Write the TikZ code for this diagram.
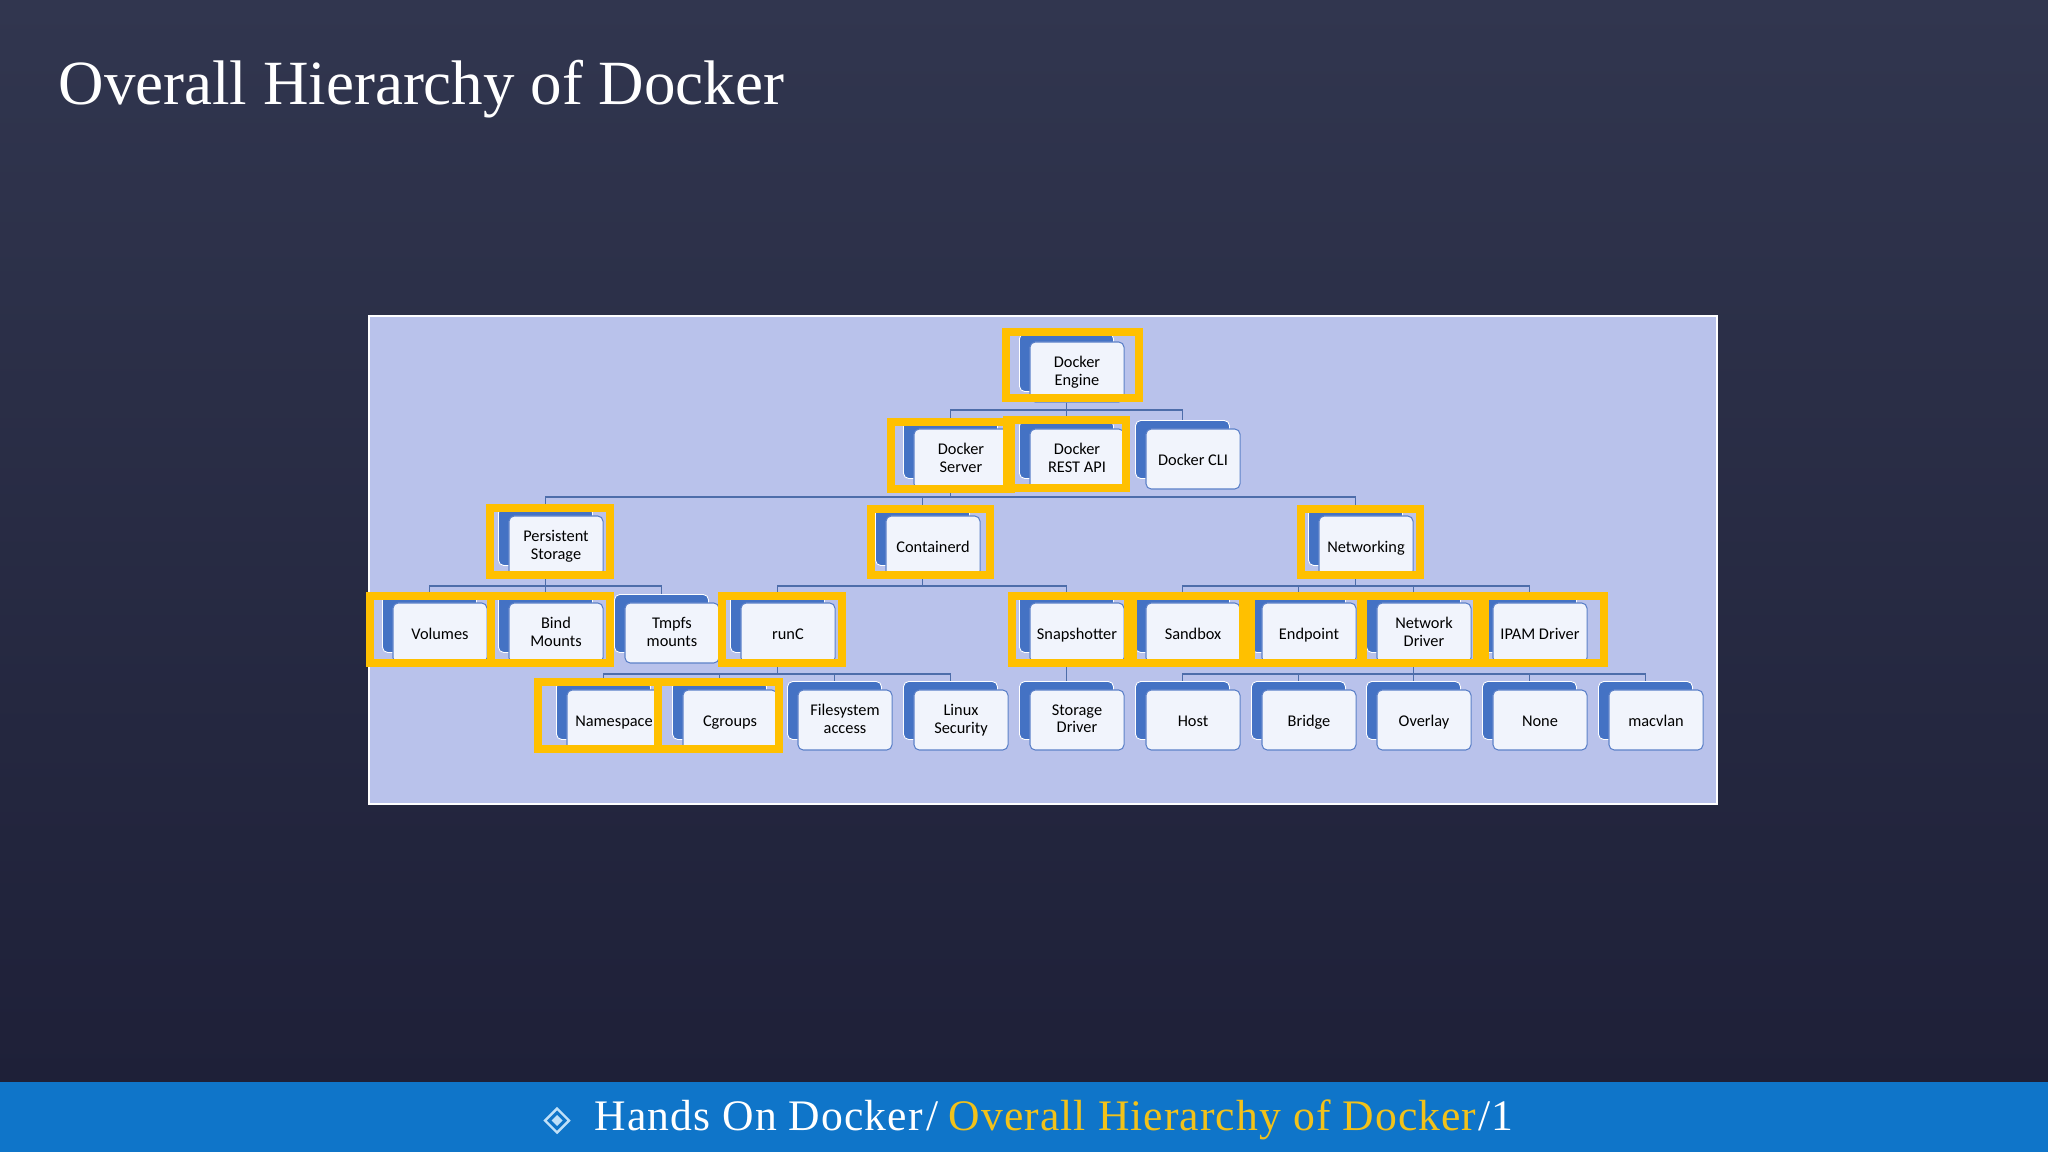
\documentclass[tikz,border=0pt]{standalone}
\usepackage{fontspec}
\setmainfont{Liberation Serif}
\newfontfamily\cardfont{Carlito}
\definecolor{slidetop}{HTML}{31364F}
\definecolor{slidebot}{HTML}{1E2038}
\definecolor{barblue}{HTML}{0F75C9}
\definecolor{panelblue}{HTML}{B9C2EB}
\definecolor{cardblue}{HTML}{4472C4}
\definecolor{cardline}{HTML}{5B80C8}
\definecolor{cardface}{HTML}{F1F4FC}
\definecolor{markgold}{HTML}{FFC000}
\definecolor{textgold}{HTML}{F2C21A}
\definecolor{bulletblue}{HTML}{BFE0F8}
\newcommand{\pxu}{*0.2845pt}
\newcommand{\cardstrut}{\rule[-0.75pt]{0pt}{5pt}}
\tikzset{
  cardback/.style={draw=white,line width=0.25pt,fill=cardblue,rounded corners=1.5pt,minimum width=94\pxu,minimum height=58\pxu,inner sep=0pt},
  cardfront/.style={draw=cardline,line width=0.3pt,fill=cardface,rounded corners=1.5pt,minimum width=94\pxu,minimum height=60\pxu,inner sep=0pt,align=center,font=\cardfont\fontsize{4.65}{5}\selectfont,text=black,execute at begin node=\cardstrut,execute at end node=\cardstrut},
  link/.style={draw=cardline!85!black,line width=0.45pt},
  markframe/.style={draw=markgold,line width=2.15pt}
}
\newcommand{\card}[4]{%
  \node[cardback] (#1-b) at (#2-10.5,#3-9.5) {};
  \node[cardfront] (#1) at (#2,#3) {#4};
}
\begin{document}
\begin{tikzpicture}[x=0.01cm,y=-0.01cm]
  \useasboundingbox (0,0) rectangle (2048,1152);

  % Slide background
  \shade[top color=slidetop,bottom color=slidebot] (0,0) rectangle (2048,1082);
  \fill[barblue] (0,1082) rectangle (2048,1152);

  % Title and footer
  \node[anchor=base west,inner sep=0pt,text=white,font=\fontsize{17.9}{20}\selectfont] (title) at (58,105) {Overall Hierarchy of Docker};
  \node[anchor=base west,inner sep=0pt,text=white,font=\fontsize{12.4}{15}\selectfont\addfontfeature{LetterSpace=2.5}] (footer) at (594,1130.5) {Hands On Docker\hspace{1pt}/\hspace{3pt}\textcolor{textgold}{Overall Hierarchy of Docker}\hspace{.5pt}/\hspace{.5pt}1};
  \draw[bulletblue,line width=0.7pt] (557,1108.5) -- (569,1120.5) -- (557,1132.5) -- (545,1120.5) -- cycle;
  \fill[bulletblue] (557,1115) -- (562.5,1120.5) -- (557,1126) -- (551.5,1120.5) -- cycle;

  % Panel
  \draw[white,line width=0.7pt,fill=panelblue] (369,316) rectangle (1717,804);

  % Buses
  \coordinate (busa) at (0,410);
  \coordinate (busb) at (0,497);
  \coordinate (busc) at (0,586);
  \coordinate (busd) at (0,674);

  % Level 1 and 2
  \card{engine}{1077}{372}{Docker\\Engine}
  \card{server}{961}{459}{Docker\\Server}
  \card{restapi}{1077}{459}{Docker\\REST API}
  \card{cli}{1193}{459}{Docker CLI}

  % Level 3
  \card{persistent}{556}{546}{Persistent\\Storage}
  \card{containerd}{933}{546}{Containerd}
  \card{networking}{1366}{546}{Networking}

  % Level 4
  \card{volumes}{440}{633}{Volumes}
  \card{bind}{556}{633}{Bind\\Mounts}
  \card{tmpfs}{672}{633}{Tmpfs\\mounts}
  \card{runc}{788}{633}{runC}
  \card{snapshotter}{1077}{633}{Snapshotter}
  \card{sandbox}{1193}{633}{Sandbox}
  \card{endpoint}{1309}{633}{Endpoint}
  \card{netdriver}{1424}{633}{Network\\Driver}
  \card{ipam}{1540}{633}{IPAM Driver}

  % Level 5
  \card{namespace}{614}{720}{Namespace}
  \card{cgroups}{730}{720}{Cgroups}
  \card{filesystem}{845}{720}{Filesystem\\access}
  \card{linux}{961}{720}{Linux\\Security}
  \card{storage}{1077}{720}{Storage\\Driver}
  \card{host}{1193}{720}{Host}
  \card{bridge}{1309}{720}{Bridge}
  \card{overlay}{1424}{720}{Overlay}
  \card{none}{1540}{720}{None}
  \card{macvlan}{1656}{720}{macvlan}

  % Connectors
  \foreach \kid in {server,restapi,cli}
    \draw[link] (engine-b |- engine.south) -- (engine-b |- busa) -| (\kid-b.north);
  \foreach \kid in {persistent,containerd,networking}
    \draw[link] (server-b |- server.south) -- (server-b |- busb) -| (\kid-b.north);
  \foreach \kid in {volumes,bind,tmpfs}
    \draw[link] (persistent-b |- persistent.south) -- (persistent-b |- busc) -| (\kid-b.north);
  \foreach \kid in {runc,snapshotter}
    \draw[link] (containerd-b |- containerd.south) -- (containerd-b |- busc) -| (\kid-b.north);
  \foreach \kid in {sandbox,endpoint,netdriver,ipam}
    \draw[link] (networking-b |- networking.south) -- (networking-b |- busc) -| (\kid-b.north);
  \foreach \kid in {namespace,cgroups,filesystem,linux}
    \draw[link] (runc-b |- runc.south) -- (runc-b |- busd) -| (\kid-b.north);
  \draw[link] (snapshotter-b |- snapshotter.south) -- (storage-b.north);
  \foreach \kid in {host,bridge,overlay,none,macvlan}
    \draw[link] (netdriver-b |- netdriver.south) -- (netdriver-b |- busd) -| (\kid-b.north);

  % Highlight frames
  \draw[markframe] (1006,332) rectangle (1139,398);
  \draw[markframe] (891,422) rectangle (1011,489);
  \draw[markframe] (1007,420) rectangle (1126,488);
  \draw[markframe] (490,508) rectangle (610,575);
  \draw[markframe] (871,509) rectangle (990,575);
  \draw[markframe] (1301,509) rectangle (1420,575);
  \draw[markframe] (370,596) rectangle (491,663);
  \draw[markframe] (491,596) rectangle (610,663);
  \draw[markframe] (722,596) rectangle (842,663);
  \draw[markframe] (1012,596) rectangle (1128,663);
  \draw[markframe] (1133,596) rectangle (1243,663);
  \draw[markframe] (1251,596) rectangle (1361,663);
  \draw[markframe] (1363,596) rectangle (1477,663);
  \draw[markframe] (1485,596) rectangle (1604,663);
  \draw[markframe] (538,682) rectangle (658,749);
  \draw[markframe] (658,682) rectangle (779,749);
\end{tikzpicture}
\end{document}
